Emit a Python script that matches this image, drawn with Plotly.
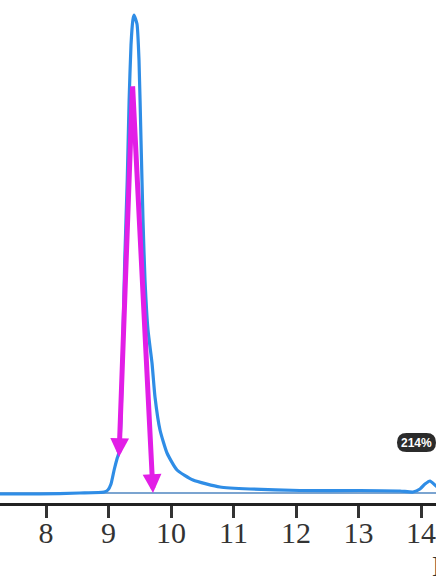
import plotly.graph_objects as go

# Chromatogram trace (time, signal)
time_min = [7.20, 7.90, 8.54, 8.93, 8.99, 9.04, 9.09, 9.14, 9.17, 9.20, 9.23, 9.26, 9.30,
            9.33, 9.36, 9.39, 9.408, 9.456, 9.488, 9.52, 9.552, 9.584, 9.632, 9.696,
            9.744, 9.824, 9.936, 10.096, 10.352, 10.784, 11.264, 12.064, 13.024,
            13.664, 13.872, 13.984, 14.064, 14.144, 14.24, 14.40]
signal = [-2, -2, 0, 2, 6, 18, 46, 70, 82, 146, 306, 466, 626,
          786, 896, 946, 956, 938, 866, 706, 546, 426, 326, 260,
          192, 126, 80, 46, 26, 12, 8, 5, 5,
          4, 2, 8, 18, 24, 14, 2]

baseline_x = [7.0, 14.5]
baseline_y = [0, 0]

x_ticks = [8, 9, 10, 11, 12, 13, 14]

# Arrows: tail (x, y) -> head (x, y)
arrow_tail_x = [9.385, 9.385]
arrow_tail_y = [816, 816]
arrow_head_x = [9.168, 9.712]
arrow_head_y = [72, 0]

badge_text = "214%"
axis_title = "E"

fig = go.Figure()
fig.add_trace(go.Scatter(x=baseline_x, y=baseline_y, mode="lines",
                         line=dict(color="#4f86c0", width=1.3),
                         hoverinfo="skip", showlegend=False))
fig.add_trace(go.Scatter(x=time_min, y=signal, mode="lines",
                         line=dict(color="#2f8de6", width=3.2, shape="spline", smoothing=0.5),
                         showlegend=False))

for tx, ty, hx, hy in zip(arrow_tail_x, arrow_tail_y, arrow_head_x, arrow_head_y):
    fig.add_annotation(x=hx, y=hy, ax=tx, ay=ty, xref="x", yref="y", axref="x", ayref="y",
                       text="", showarrow=True, arrowhead=2, arrowsize=0.75,
                       arrowwidth=5, arrowcolor="#e21ee6", standoff=0, startstandoff=0)

# badge (rounded pill)
w2, h2, r = 19.5, 9.5, 9.5
path = (f"M{-w2 + r},{-h2} L{w2 - r},{-h2} Q{w2},{-h2} {w2},{0} "
        f"Q{w2},{h2} {w2 - r},{h2} L{-w2 + r},{h2} Q{-w2},{h2} {-w2},{0} "
        f"Q{-w2},{-h2} {-w2 + r},{-h2} Z")
fig.add_shape(type="path", xref="paper", yref="paper", xsizemode="pixel", ysizemode="pixel",
              xanchor=416.5 / 436, yanchor=(503 - 442.5) / 503, path=path,
              fillcolor="#2b2b2b", line=dict(width=0))
fig.add_annotation(x=416.5 / 436, y=(503 - 442.5) / 503, xref="paper", yref="paper",
                   text=f"<b>{badge_text}</b>", showarrow=False,
                   font=dict(family="Liberation Sans", size=12, color="white"),
                   xanchor="center", yanchor="middle")
fig.add_annotation(x=430 / 436, y=(503 - 565) / 503, xref="paper", yref="paper",
                   text=axis_title, showarrow=False, xanchor="left", yanchor="middle",
                   font=dict(family="Liberation Serif", size=30, color="#333"))

fig.update_layout(
    width=436, height=580,
    margin=dict(l=0, r=0, t=0, b=77),
    paper_bgcolor="white", plot_bgcolor="white",
    xaxis=dict(range=[7.264, 14.24], tickvals=x_ticks, ticktext=[str(t) for t in x_ticks],
               showgrid=False, zeroline=False, showline=True, linecolor="#222", linewidth=2.5,
               ticks="outside", ticklen=12, tickwidth=2.5, tickcolor="#333",
               ticklabelstandoff=-11,
               tickfont=dict(family="Liberation Serif", size=30, color="#333")),
    yaxis=dict(range=[-20, 986], visible=False),
)

fig.write_html("out.html", config={"displayModeBar": False},
               post_script="document.body.style.margin='0';document.body.style.overflow='hidden';")
